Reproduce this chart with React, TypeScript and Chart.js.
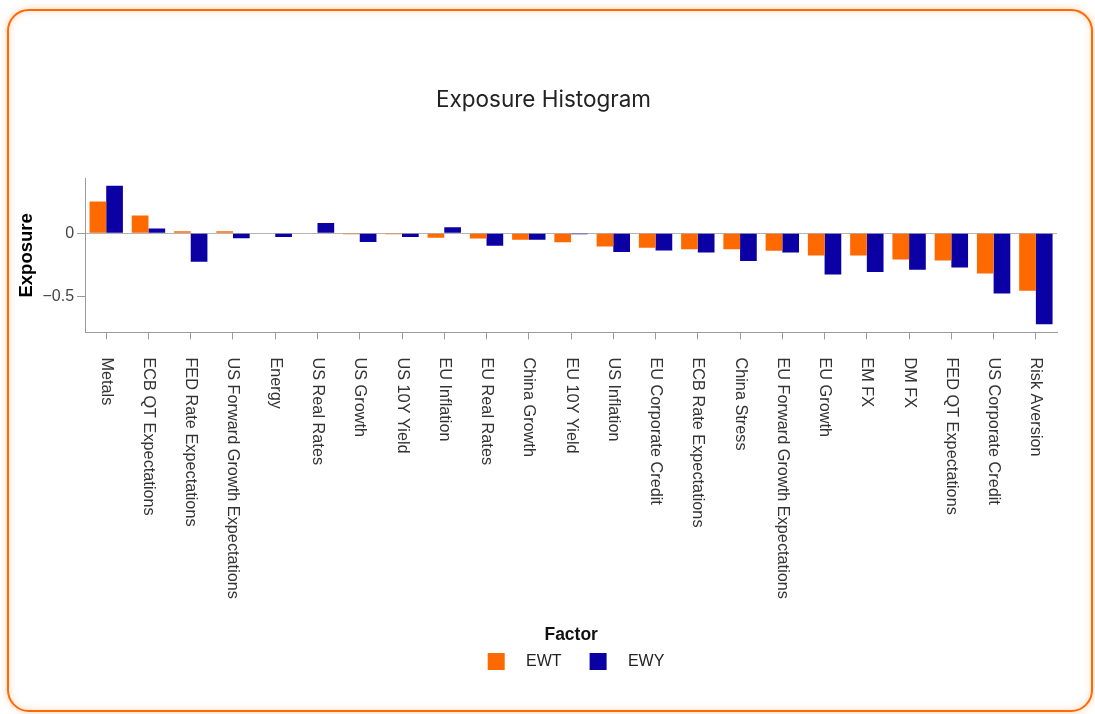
import React, { useEffect, useRef } from 'react';
import { Chart, registerables } from 'chart.js';

Chart.register(...registerables);

const categories: string[] = [
  'Metals',
  'ECB QT Expectations',
  'FED Rate Expectations',
  'US Forward Growth Expectations',
  'Energy',
  'US Real Rates',
  'US Growth',
  'US 10Y Yield',
  'EU Inflation',
  'EU Real Rates',
  'China Growth',
  'EU 10Y Yield',
  'US Inflation',
  'EU Corporate Credit',
  'ECB Rate Expectations',
  'China Stress',
  'EU Forward Growth Expectations',
  'EU Growth',
  'EM FX',
  'DM FX',
  'FED QT Expectations',
  'US Corporate Credit',
  'Risk Aversion',
];

const ewtValues: number[] = [
  0.25, 0.139, 0.015, 0.015, -0.005, -0.005, -0.008, -0.008, -0.037, -0.042, -0.053, -0.071,
  -0.105, -0.116, -0.127, -0.127, -0.14, -0.177, -0.177, -0.208, -0.216, -0.319, -0.455,
];

const ewyValues: number[] = [
  0.376, 0.036, -0.227, -0.04, -0.03, 0.081, -0.069, -0.03, 0.047, -0.1, -0.053, -0.008,
  -0.148, -0.137, -0.153, -0.221, -0.153, -0.327, -0.308, -0.29, -0.271, -0.477, -0.721,
];

const seriesNames: string[] = ['EWT', 'EWY'];
const yTickValues: number[] = [-0.5, 0];
const yMin = -0.785;
const yMax = 0.434;

const ORANGE = '#FF6A00';
const BLUE = '#0A00A3';
const AXIS_GREY = '#9a9a9a';
const LABEL_FONT = '"Liberation Sans", Arial, sans-serif';
const X_LABEL_SIZE = 16.3;
const X_TICK_LEN = 7;
const X_TICK_PAD = 18;
const LEGEND_SHIFT = 5;

const xLabelPlugin = {
  id: 'verticalXLabels',
  afterLayout(chart: any) {
    if (chart.legend) {
      chart.legend.left += LEGEND_SHIFT;
      chart.legend.right += LEGEND_SHIFT;
    }
  },
  afterDraw(chart: any) {
    const xs = chart.scales.x;
    const ctx = chart.ctx;
    ctx.save();
    ctx.font = `${X_LABEL_SIZE}px ${LABEL_FONT}`;
    ctx.fillStyle = '#333333';
    ctx.textAlign = 'left';
    ctx.textBaseline = 'middle';
    xs.ticks.forEach((t: any, i: number) => {
      const x = xs.getPixelForTick(i);
      ctx.save();
      ctx.translate(x, xs.top + X_TICK_LEN + X_TICK_PAD);
      ctx.rotate(Math.PI / 2);
      ctx.fillText(String(xs.getLabelForValue(t.value)), 0, 0);
      ctx.restore();
    });
    ctx.restore();
  },
};

export default function App() {
  const canvasRef = useRef<HTMLCanvasElement | null>(null);

  useEffect(() => {
    const canvas = canvasRef.current;
    if (!canvas) return;
    const chart = new Chart(canvas, {
      type: 'bar',
      data: {
        labels: categories,
        datasets: [
          { label: seriesNames[0], data: ewtValues, backgroundColor: ORANGE, borderWidth: 0 },
          { label: seriesNames[1], data: ewyValues, backgroundColor: BLUE, borderWidth: 0 },
        ],
      },
      plugins: [xLabelPlugin],
      options: {
        responsive: false,
        animation: false,
        datasets: { bar: { categoryPercentage: 0.79, barPercentage: 1 } },
        layout: { padding: { left: 30, right: 38, top: 0, bottom: 34 } },
        scales: {
          x: {
            offset: true,
            grid: {
              offset: false,
              drawOnChartArea: false,
              drawTicks: true,
              tickLength: X_TICK_LEN,
              tickColor: AXIS_GREY,
              color: 'transparent',
            },
            border: { display: true, color: AXIS_GREY, width: 1 },
            ticks: {
              autoSkip: false,
              minRotation: 90,
              maxRotation: 90,
              padding: X_TICK_PAD,
              color: 'transparent',
              font: { family: LABEL_FONT, size: X_LABEL_SIZE },
            },
          },
          y: {
            min: yMin,
            max: yMax,
            afterBuildTicks: (scale: any) => {
              scale.ticks = yTickValues.map((v) => ({ value: v }));
            },
            grid: {
              drawTicks: true,
              tickLength: 8,
              tickColor: AXIS_GREY,
              color: (c: any) => (c.tick && c.tick.value === 0 ? '#b5b5b5' : 'transparent'),
            },
            border: { display: true, color: AXIS_GREY, width: 1 },
            ticks: {
              padding: 3,
              color: '#444444',
              font: { family: LABEL_FONT, size: 16 },
              callback: (v: any) => (Number(v) === 0 ? '0' : String(v).replace('-', '\u2212')),
            },
            title: {
              display: true,
              text: 'Exposure',
              color: '#000000',
              font: { family: LABEL_FONT, size: 18.5, weight: 'bold' },
              padding: { top: -14, bottom: 1.3 },
            },
          },
        },
        plugins: {
          title: {
            display: true,
            text: 'Exposure Histogram',
            color: '#222222',
            font: { family: 'Inter, sans-serif', size: 22.5, weight: 'normal' },
            padding: { top: 87, bottom: 64.3 },
          },
          legend: {
            display: true,
            position: 'bottom',
            fullSize: false,
            title: {
              display: true,
              text: 'Factor  ',
              color: '#111111',
              font: { family: LABEL_FONT, size: 17.5, weight: 'bold' },
              padding: { top: 9, bottom: -22 },
            },
            labels: {
              boxWidth: 17,
              boxHeight: 17,
              padding: 28,
              color: '#222222',
              font: { family: LABEL_FONT, size: 16 },
              generateLabels: (ch: any) =>
                ch.data.datasets.map((ds: any, i: number) => ({
                  text: '   ' + ds.label,
                  fillStyle: ds.backgroundColor,
                  strokeStyle: ds.backgroundColor,
                  lineWidth: 0,
                  hidden: false,
                  datasetIndex: i,
                  fontColor: '#222222',
                })),
            },
          },
          tooltip: { enabled: false },
        },
      },
    });
    return () => chart.destroy();
  }, []);

  return (
    <div>
      <div
        style={{
          position: 'absolute',
          left: 7,
          top: 9,
          width: 1086,
          height: 703,
          boxSizing: 'border-box',
          border: '2px solid #FF6A00',
          borderRadius: 22,
          boxShadow: '0 0 7px rgba(255,106,0,0.35), inset 0 0 7px rgba(255,106,0,0.25)',
          background: '#ffffff',
        }}
      />
      <canvas
        ref={canvasRef}
        width={1095}
        height={714}
        style={{ position: 'absolute', left: 0, top: 0, width: 1095, height: 714 }}
      />
    </div>
  );
}
